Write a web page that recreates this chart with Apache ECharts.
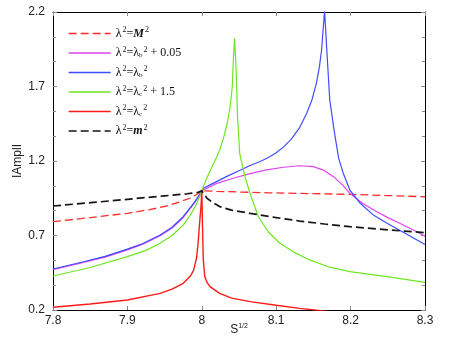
<!DOCTYPE html>
<html>
<head>
<meta charset="utf-8">
<script src="https://cdn.jsdelivr.net/npm/echarts@6/dist/echarts.min.js"></script>
<style>
  html, body { margin: 0; padding: 0; background: #fff; }
  #chart { width: 450px; height: 348px; }
</style>
</head>
<body>
<div id="chart"></div>
<script>
// axis ticks
const xTicks = [7.8, 7.9, 8.0, 8.1, 8.2, 8.3];
const yTicks = [0.2, 0.7, 1.2, 1.7, 2.2];

// curves, [s^1/2, |Ampl|]
const mBigSq = [[7.8,0.793],[7.85,0.82],[7.9,0.849],[7.93,0.874],[7.953,0.898],[7.97,0.925],[7.984,0.95],[7.993,0.975],[8.0,1.0],
  [8.02,0.996],[8.087,0.987],[8.15,0.981],[8.2,0.976],[8.25,0.968],[8.3,0.96]];
const lbPlus = [[7.8,0.47],[7.841,0.519],[7.87,0.555],[7.899,0.602],[7.92,0.64],[7.944,0.698],[7.96,0.75],[7.975,0.821],[7.989,0.911],[7.995,0.955],[8.0,1.0],
  [8.002,1.01],[8.02,1.05],[8.042,1.084],[8.065,1.115],[8.087,1.14],[8.11,1.158],[8.132,1.168],[8.15,1.162],[8.165,1.135],[8.177,1.095],
  [8.19,1.035],[8.199,0.983],[8.215,0.92],[8.231,0.871],[8.25,0.82],[8.266,0.782],[8.285,0.735],[8.3,0.695]];
const lb = [[7.8,0.475],[7.841,0.524],[7.87,0.56],[7.899,0.607],[7.92,0.645],[7.944,0.703],[7.96,0.755],[7.975,0.826],[7.989,0.916],[7.995,0.96],[8.0,1.0],
  [8.002,1.017],[8.015,1.05],[8.033,1.095],[8.05,1.135],[8.065,1.17],[8.08,1.2],[8.09,1.225],[8.1,1.255],[8.11,1.295],[8.12,1.345],
  [8.131,1.42],[8.141,1.52],[8.148,1.61],[8.154,1.721],[8.158,1.83],[8.161,1.945],[8.165,2.21],
  [8.168,1.945],[8.172,1.609],[8.178,1.4],[8.184,1.218],[8.19,1.12],[8.199,1.005],[8.213,0.916],[8.23,0.84],[8.249,0.782],[8.275,0.71],[8.3,0.64]];
const lcPlus = [[7.8,0.428],[7.85,0.485],[7.9,0.558],[7.925,0.6],[7.944,0.648],[7.96,0.7],[7.975,0.77],[7.985,0.84],[7.991,0.893],[7.997,0.96],[8.0,1.0],
  [8.002,1.028],[8.008,1.1],[8.015,1.175],[8.02,1.225],[8.024,1.274],[8.029,1.35],[8.034,1.45],[8.038,1.56],[8.041,1.7],[8.042,1.833],[8.044,2.023],
  [8.046,1.833],[8.048,1.497],[8.051,1.25],[8.055,1.16],[8.058,1.095],[8.065,0.98],[8.076,0.826],[8.09,0.72],[8.105,0.648],[8.125,0.585],
  [8.145,0.536],[8.17,0.49],[8.199,0.457],[8.249,0.424],[8.3,0.385]];
const lc = [[7.8,0.218],[7.85,0.24],[7.9,0.267],[7.944,0.312],[7.96,0.34],[7.975,0.379],[7.985,0.43],[7.989,0.468],[7.993,0.55],[7.995,0.648],
  [7.997,0.78],[7.999,0.9],[8.0,1.0],[8.001,0.75],[8.002,0.536],[8.004,0.424],[8.007,0.385],[8.011,0.357],[8.024,0.312],[8.04,0.28],
  [8.065,0.256],[8.1,0.232],[8.132,0.211],[8.17,0.19],[8.3,0.15]];
const mSmallSq = [[7.8,0.898],[7.85,0.92],[7.9,0.943],[7.95,0.966],[7.98,0.98],[7.995,0.99],[8.0,1.0],
  [8.007,0.95],[8.015,0.92],[8.024,0.894],[8.04,0.87],[8.065,0.849],[8.1,0.82],[8.132,0.797],[8.165,0.777],[8.199,0.759],[8.25,0.738],[8.3,0.719]];

const names = ['M', 'b05', 'b', 'c15', 'c', 'm'];
const labels = {
  M: '{t|λ}{sup|2}{t|=}{it|M}{sup|2}',
  b05: '{t|λ}{sup|2}{t|=λ}{sub|b}{sup|2}{t| + 0.05}',
  b: '{t|λ}{sup|2}{t|=λ}{sub|b}{sup|2}',
  c15: '{t|λ}{sup|2}{t|=λ}{sub|c}{sup|2}{t| + 1.5}',
  c: '{t|λ}{sup|2}{t|=λ}{sub|c}{sup|2}',
  m: '{t|λ}{sup|2}{t|=}{it|m}{sup|2}'
};

const chart = echarts.init(document.getElementById('chart'));

function line(name, data, color, width, dashed) {
  return {
    name: name,
    type: 'line',
    data: data,
    symbol: 'none',
    smooth: false,
    clip: true,
    lineStyle: { color: color, width: width, type: dashed ? [8, 4] : 'solid' },
    itemStyle: { color: color }
  };
}

const axisFont = { fontFamily: 'Liberation Sans', fontSize: 12, color: '#222' };
const serif = 'Liberation Serif';

chart.setOption({
  animation: false,
  backgroundColor: '#fff',
  grid: { left: 53, right: 25, top: 12, bottom: 38 },
  legend: {
    data: names,
    orient: 'vertical',
    left: 63,
    top: 21,
    itemWidth: 42,
    itemHeight: 10,
    itemGap: 6,
    itemStyle: { opacity: 0 },
    lineStyle: { width: 1.3 },
    formatter: n => labels[n],
    textStyle: {
      fontFamily: serif, fontSize: 12, color: '#111',
      rich: {
        t: { fontFamily: serif, fontSize: 12, color: '#111' },
        it: { fontFamily: serif, fontSize: 12, fontStyle: 'italic', fontWeight: 'bold', color: '#111' },
        sup: { fontFamily: serif, fontSize: 8, color: '#111', padding: [0, 0, 7, 1] },
        sub: { fontFamily: serif, fontSize: 7, color: '#111', padding: [5, 0, 0, 0] }
      }
    }
  },
  xAxis: [{
    type: 'value',
    min: xTicks[0],
    max: xTicks[xTicks.length - 1],
    interval: 0.1,
    name: 'S{sup|1/2}',
    nameLocation: 'middle',
    nameGap: 13,
    nameMoveOverlap: false,
    nameTextStyle: {
      fontFamily: 'Liberation Sans', fontSize: 12, color: '#222',
      rich: { sup: { fontFamily: 'Liberation Sans', fontSize: 7, color: '#222', padding: [0, 0, 7, 0] } }
    },
    axisLine: { lineStyle: { color: '#000', width: 1 } },
    axisTick: { inside: true, length: 4, lineStyle: { color: '#888' } },
    axisLabel: Object.assign({ margin: 5 }, axisFont),
    splitLine: { show: false }
  }, {
    type: 'value',
    position: 'top',
    min: xTicks[0],
    max: xTicks[xTicks.length - 1],
    interval: 0.1,
    axisLine: { lineStyle: { color: '#000', width: 1 } },
    axisTick: { inside: true, length: 4, lineStyle: { color: '#888' } },
    axisLabel: { show: false },
    splitLine: { show: false }
  }],
  yAxis: [{
    type: 'value',
    min: yTicks[0],
    max: yTicks[yTicks.length - 1],
    interval: 0.5,
    name: 'IAmplI',
    nameLocation: 'middle',
    nameGap: 29,
    nameMoveOverlap: false,
    nameTextStyle: { fontFamily: 'Liberation Sans', fontSize: 12, color: '#222' },
    axisLine: { lineStyle: { color: '#000', width: 1 } },
    axisTick: { inside: true, length: 4, lineStyle: { color: '#888' } },
    minorTick: { show: true, splitNumber: 3, length: 3, lineStyle: { color: '#888' } },
    axisLabel: Object.assign({ margin: 8 }, axisFont),
    splitLine: { show: false }
  }, {
    type: 'value',
    position: 'right',
    min: yTicks[0],
    max: yTicks[yTicks.length - 1],
    interval: 0.5,
    axisLine: { lineStyle: { color: '#000', width: 1 } },
    axisTick: { inside: true, length: 4, lineStyle: { color: '#888' } },
    minorTick: { show: true, splitNumber: 3, length: 3, lineStyle: { color: '#888' } },
    axisLabel: { show: false },
    splitLine: { show: false }
  }],
  series: [
    line('M', mBigSq, '#ff2a2a', 1.3, true),
    line('b05', lbPlus, '#dd44ee', 1.2, false),
    line('b', lb, '#3f4cff', 1.2, false),
    line('c15', lcPlus, '#6fe61f', 1.2, false),
    line('c', lc, '#ff1a1a', 1.4, false),
    line('m', mSmallSq, '#151515', 1.7, true)
  ]
});
</script>
</body>
</html>
